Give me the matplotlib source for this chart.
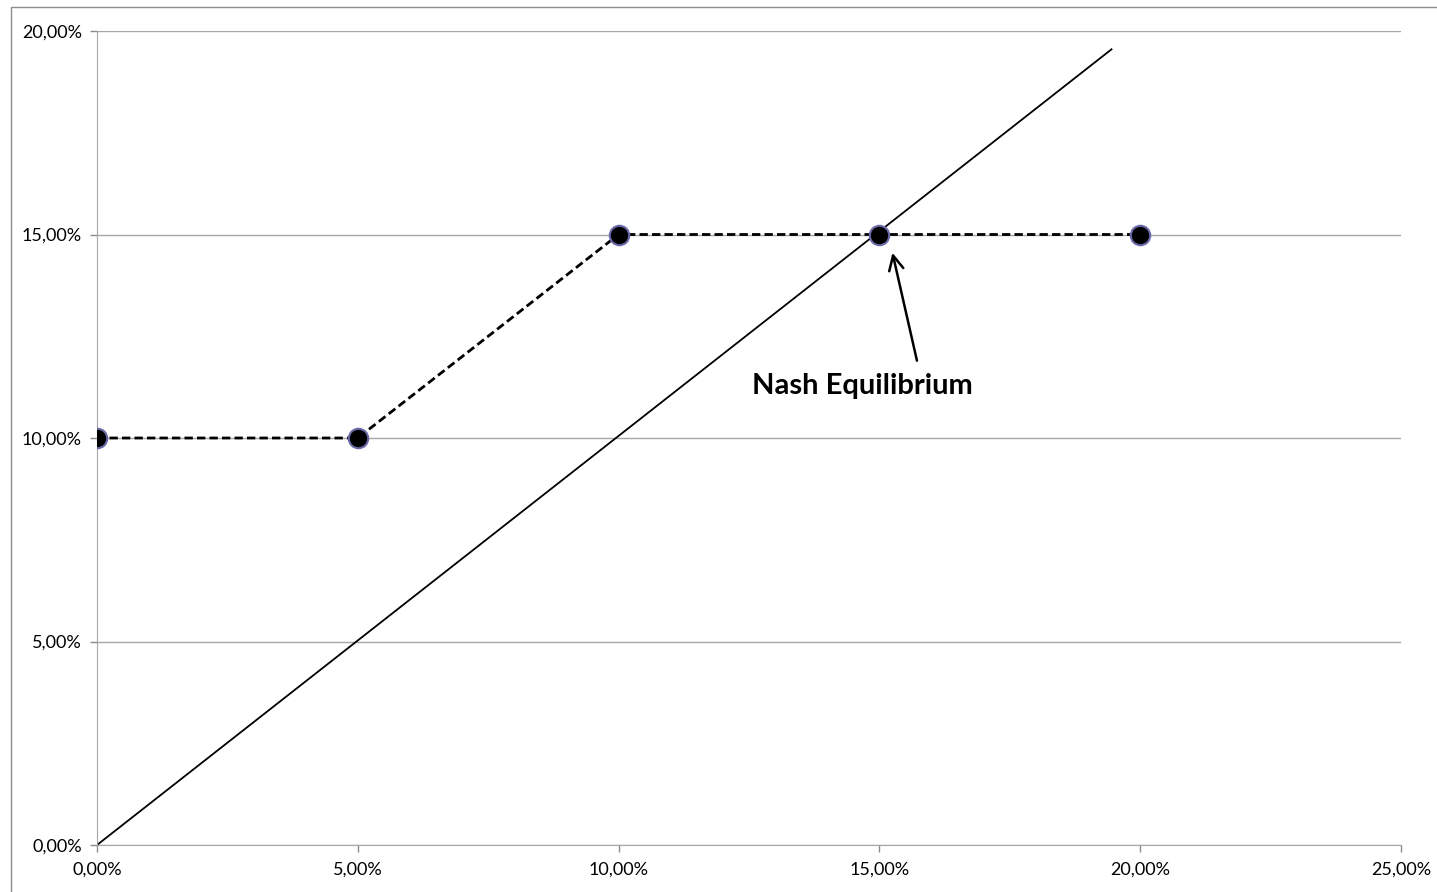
import matplotlib
matplotlib.use('Agg')
import matplotlib.pyplot as plt
from matplotlib.patches import Rectangle
from matplotlib.ticker import FuncFormatter

# best response points (percent)
bestX = [0, 5, 10, 15, 20]
bestY = [10, 10, 15, 15, 15]
# 45 degree line
diagX = [0, 19.45]
diagY = [0, 19.55]
xTicks = [0, 5, 10, 15, 20, 25]
yTicks = [0, 5, 10, 15, 20]
nashLabel = "Nash Equilibrium"
labelPos = (14.67, 11.28)
arrowTail = (15.72, 11.9)
arrowHead = (15.25, 14.55)

plt.rcParams['font.family'] = ['Lato', 'DejaVu Sans']

fig = plt.figure(figsize=(14.37, 8.92), dpi=100)
ax = fig.add_axes([97 / 1437, 47 / 892, 1304 / 1437, 814 / 892])

# outer chart border
fig.patches.append(Rectangle((11 / 1437, -0.1), 1.2, 885 / 892 + 0.1, transform=fig.transFigure,
                             fill=False, edgecolor='#8c8c8c', linewidth=1.0))

ax.plot(diagX, diagY, color='black', linewidth=1.3, zorder=2)
ax.plot(bestX, bestY, color='black', linewidth=2.0, linestyle=(0, (3, 1.5)), zorder=3)
ax.plot(bestX, bestY, linestyle='none', marker='o', markersize=14,
        markerfacecolor='black', markeredgecolor='#6a6aa8', markeredgewidth=1.5, zorder=4)

ax.text(labelPos[0], labelPos[1], nashLabel, ha='center', va='center',
        fontsize=21, fontweight='bold')
ax.annotate('', xy=arrowHead, xytext=arrowTail,
            arrowprops=dict(arrowstyle='->', color='black', lw=1.8,
                            mutation_scale=26, shrinkA=0, shrinkB=0))

ax.set_xlim(0, 25)
ax.set_ylim(0, 20)
ax.set_xticks(xTicks)
ax.set_yticks(yTicks)
pct = FuncFormatter(lambda v, p: ("%.2f%%" % v).replace('.', ','))
ax.xaxis.set_major_formatter(pct)
ax.yaxis.set_major_formatter(pct)
ax.tick_params(axis='both', colors='#8c8c8c', labelcolor='black', labelsize=13, length=5, width=1)
ax.tick_params(axis='x', pad=7)
ax.tick_params(axis='y', pad=6)
ax.grid(axis='y', color='#a6a6a6', linewidth=1)
ax.set_axisbelow(True)
for s in ['top', 'right']:
    ax.spines[s].set_visible(False)
for s in ['left', 'bottom']:
    ax.spines[s].set_color('#a6a6a6')

fig.savefig('out.png', dpi=100)
